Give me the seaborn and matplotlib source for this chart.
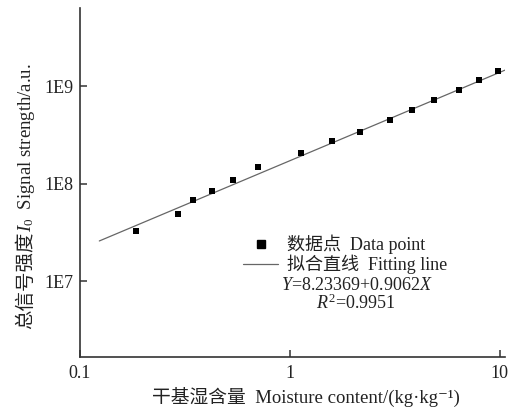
import matplotlib
matplotlib.use("Agg")
import matplotlib.pyplot as plt
import seaborn as sns
import numpy as np
import pandas as pd
from matplotlib.lines import Line2D

# ---------------- data ----------------
moisture = [0.184, 0.292, 0.345, 0.425, 0.536, 0.705, 1.13, 1.585, 2.17,
            2.99, 3.81, 4.89, 6.43, 8.0, 9.86]
signal = [3.26e7, 4.9e7, 6.78e7, 8.32e7, 1.09e8, 1.48e8, 2.06e8, 2.73e8,
          3.38e8, 4.48e8, 5.71e8, 7.18e8, 9.04e8, 1.14e9, 1.44e9]
fit_intercept = 8.23369
fit_slope = 0.9062
fit_x = [0.1236, 10.9]
x_ticks = [0.1, 1, 10]
x_ticklabels = ["0.1", "1", "10"]
y_ticks = [1e7, 1e8, 1e9]
y_ticklabels = ["1E7", "1E8", "1E9"]
legend_labels = ["数据点  Data point", "拟合直线  Fitting line"]
eq_text = "$Y$=8.23369+0.9062$X$"
r2_text = "$R^2$=0.9951"
xlabel_text = "干基湿含量  Moisture content/(kg·kg⁻¹)"
ylabel_cjk = "总信号强度"
ylabel_latin = "$I_0$  Signal strength/a.u."

fit_y = [10 ** (fit_intercept + fit_slope * np.log10(v)) for v in fit_x]

# ---------------- style ----------------
sns.set_style("ticks")
plt.rcParams["font.family"] = ["Liberation Serif", "Noto Sans CJK SC", "DejaVu Serif"]
plt.rcParams["mathtext.fontset"] = "custom"
plt.rcParams["mathtext.rm"] = "Liberation Serif"
plt.rcParams["mathtext.it"] = "Liberation Serif:italic"
plt.rcParams["mathtext.bf"] = "Liberation Serif:bold"

W, H = 516, 412
fig = plt.figure(figsize=(W / 100, H / 100), dpi=100)
ax = fig.add_axes([80 / W, 1 - 357 / H, (505 - 80) / W, (357 - 8) / H])

df_pts = pd.DataFrame({"x": moisture, "y": signal})
df_fit = pd.DataFrame({"x": fit_x, "y": fit_y})

sns.lineplot(data=df_fit, x="x", y="y", color="#666666", linewidth=0.9, ax=ax)
sns.scatterplot(data=df_pts, x="x", y="y", marker="s", color="black", s=24,
                linewidth=0, ax=ax, zorder=3)

ax.set_xscale("log")
ax.set_yscale("log")
ax.set_xlim(0.1, 10.6)
ax.set_ylim(10 ** 6.221, 10 ** 9.8)
ax.set_xticks(x_ticks)
ax.set_xticklabels(x_ticklabels)
ax.set_yticks(y_ticks)
ax.set_yticklabels(y_ticklabels)
ax.minorticks_off()
ax.set_xlabel("")
ax.set_ylabel("")

for s in ["top", "right"]:
    ax.spines[s].set_visible(False)
for s in ["left", "bottom"]:
    ax.spines[s].set_color("#333333")
    ax.spines[s].set_linewidth(1.2)
ax.tick_params(axis="both", direction="in", length=5, width=1.1,
               color="#333333", labelsize=13, labelcolor="#222222")
ax.tick_params(axis="y", pad=5)
ax.tick_params(axis="x", pad=6)

# legend
handles = [Line2D([], [], marker="s", color="black", linestyle="none", markersize=5.5),
           Line2D([], [], color="#666666", linewidth=0.9)]
leg = ax.legend(handles, legend_labels, loc="center left",
                bbox_to_anchor=((243 - 80) / (505 - 80), 1 - (254.5 - 8) / (357 - 8)),
                frameon=False, fontsize=13, handlelength=1.95, handletextpad=0.5,
                borderpad=0, borderaxespad=0, labelspacing=0.05)
for t in leg.get_texts():
    t.set_color("#222222")

fig.text(356.5 / W, 1 - 285 / H, eq_text, ha="center", va="center",
         fontsize=13, color="#222222")
fig.text(356 / W, 1 - 303 / H, r2_text, ha="center", va="center",
         fontsize=13, color="#222222")

# x label
fig.text(306 / W, 1 - 397 / H, xlabel_text, ha="center", va="center",
         fontsize=13.5, color="#222222")

# y label (rotated, built in two pieces)
fig.canvas.draw()
r = fig.canvas.get_renderer()
base_x = 31 / W
y0 = 1 - 329 / H
t1 = fig.text(base_x, y0, ylabel_cjk, rotation=90, rotation_mode="anchor",
              ha="left", va="baseline", fontsize=14, color="#222222")
bb = t1.get_window_extent(r)
y1 = y0 + bb.height / H
t2 = fig.text(base_x, y1, ylabel_latin, rotation=90, rotation_mode="anchor",
              ha="left", va="baseline", fontsize=13.5, color="#222222")

fig.savefig("out.png", dpi=100)
